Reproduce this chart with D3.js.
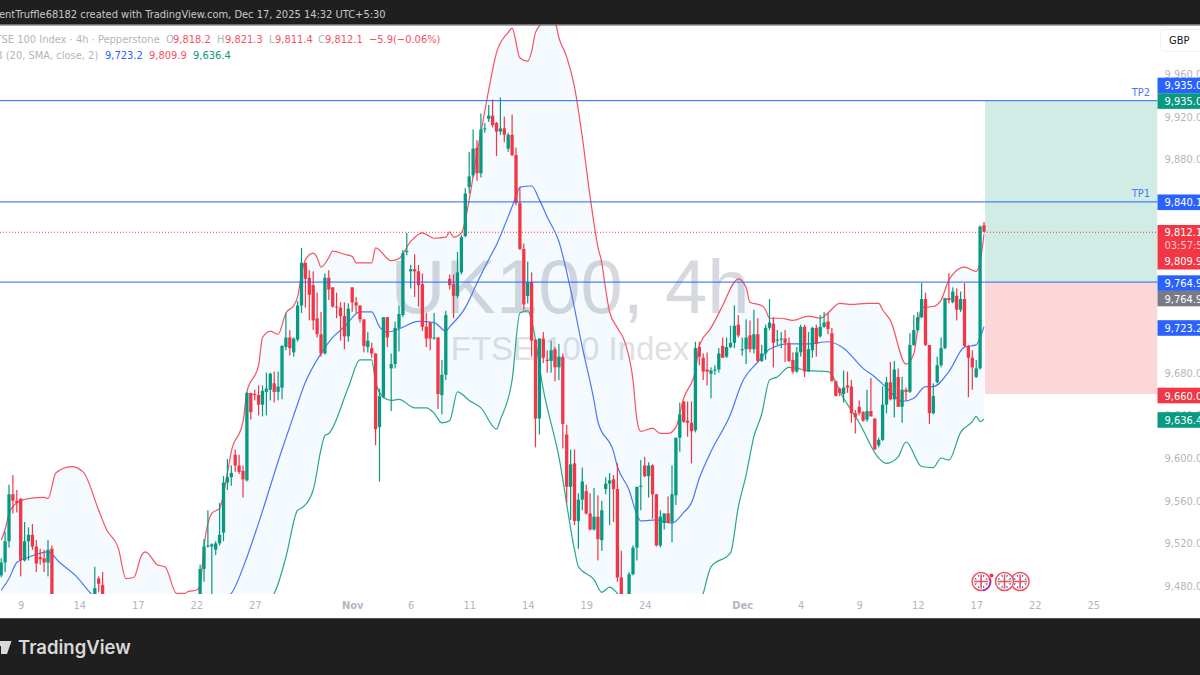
<!DOCTYPE html>
<html>
<head>
<meta charset="utf-8">
<script src="https://cdn.jsdelivr.net/npm/d3@7"></script>
<style>
  html, body { margin: 0; padding: 0; background: #fff; overflow: hidden; }
  text { font-family: "DejaVu Sans", sans-serif; font-stretch: condensed; }
</style>
</head>
<body>
<svg id="chart" width="1200" height="675"></svg>
<script>
// 4h bars, one row = 10 bars, null = bar is off the visible price range
const opens = [
  9490,9502,9522,9566,9560,9562,9504,9522,9528,9517,
  9507,9506,9502,9515,null,null,null,null,null,null,
  null,null,null,null,9467,9487,9481,null,null,null,
  null,null,null,null,null,null,null,null,null,null,
  null,null,null,null,null,null,null,null,null,null,
  null,9458,9496,9517,9517,9514,9520,9530,9577,9582,
  9603,9593,9588,9579,9661,9660,9659,9650,9662,9664,
  9670,9662,9666,9704,9713,9699,9711,9743,9783,9769,
  9762,9731,9716,9698,9769,9760,9742,9741,9733,9714,
  9760,9746,9743,9730,9704,9703,9698,9629,9657,9732,
  9684,9688,9722,9734,9793,9775,9777,9775,9763,9723,
  9727,9712,9713,9659,9678,9768,9763,9752,9774,9808,
  9854,9865,9891,9867,9908,9918,9921,9914,9906,9909,
  9890,9903,9884,9839,9796,9752,9765,9711,9637,9712,
  9692,9691,9702,9685,9695,9622,9573,9595,9541,9561,
  9569,9548,9533,9545,9523,9571,9576,9580,9571,9488,
  null,9462,9491,9516,9573,9593,9583,9593,9566,9518,
  9539,9548,9540,9565,9619,9653,9635,9633,9626,9704,
  9694,9683,9679,9682,9683,9705,9695,9704,9708,9725,
  9701,9702,9715,9702,9716,9691,9698,9722,9726,9710,
  9711,9712,9708,9692,9681,9699,9723,9681,9701,9722,
  9714,9723,9728,9717,9672,9665,9660,9668,9667,9642,
  9648,9643,9636,9644,9637,9612,9617,9650,9671,9655,
  9676,9648,9664,9662,9706,9720,9732,9749,9706,9642,
  9671,9687,9703,9750,9746,9752,9739,9749,9705,9694,
  9676,9684,9818.2
];
const highs = [
  9506,9531,9575,9584,9570,9562,9540,9535,9538,9523,
  9515,9514,9523,9518,null,null,null,null,null,null,
  null,null,null,null,9498,9489,9493,null,null,null,
  null,null,null,null,null,null,null,null,null,null,
  null,null,null,null,null,null,null,null,null,null,
  null,9500,9524,9551,9520,9522,9558,9583,9599,9593,
  9608,9603,9593,9662,9661,9664,9668,9668,9680,9680,
  9681,9681,9706,9736,9720,9713,9747,9797,9783,9776,
  9775,9755,9737,9773,9776,9760,9755,9746,9746,9745,
  9760,9751,9743,9730,9718,9708,9698,9665,9732,9732,
  9698,9728,9743,9795,9811,9781,9791,9781,9773,9736,
  9727,9736,9713,9692,9738,9772,9772,9793,9809,9853,
  9887,9908,9898,9923,9914,9931,9936,9915,9938,9920,
  9905,9922,9891,9854,9801,9784,9774,9711,9712,9718,
  9701,9710,9704,9707,9698,9631,9608,9608,9567,9591,
  9575,9567,9572,9565,9560,9582,9586,9584,9595,9513,
  null,9493,9518,9573,9598,9601,9596,9594,9566,9551,
  9548,9564,9593,9619,9652,9653,9653,9653,9709,9709,
  9698,9699,9685,9687,9703,9713,9713,9724,9743,9734,
  9713,9730,9729,9739,9731,9706,9725,9749,9732,9720,
  9718,9720,9713,9699,9704,9725,9725,9718,9723,9725,
  9734,9737,9736,9722,9672,9666,9682,9681,9673,9645,
  9654,9644,9664,9675,9637,9619,9667,9676,9690,9691,
  9684,9676,9666,9717,9734,9737,9764,9755,9706,9670,
  9695,9713,9750,9773,9760,9759,9756,9764,9706,9701,
  9692,9818,9821.3
];
const lows = [
  9488,9493,9516,9548,9549,9489,9503,9504,9514,9493,
  9500,9493,9489,9439,null,null,null,null,null,null,
  null,null,null,null,9461,9474,9459,null,null,null,
  null,null,null,null,null,null,null,null,null,null,
  null,null,null,null,null,null,null,null,null,null,
  null,9453,9484,9516,9467,9509,9518,9522,9570,9574,
  9587,9585,9563,9578,9636,9654,9640,9639,9640,9654,
  9652,9654,9655,9701,9696,9695,9709,9736,9741,9729,
  9720,9713,9695,9697,9748,9741,9731,9710,9702,9709,
  9737,9736,9727,9699,9699,9694,9612,9578,9656,9704,
  9644,9684,9700,9732,9790,9759,9751,9742,9719,9704,
  9701,9711,9646,9641,9673,9758,9731,9750,9772,9807,
  9848,9863,9860,9863,9905,9915,9910,9883,9903,9896,
  9887,9883,9837,9795,9739,9745,9695,9610,9622,9689,
  9680,9680,9672,9673,9609,9558,9542,9537,9515,9551,
  9547,9532,9532,9504,9513,9566,9537,9540,9484,9448,
  null,9458,9490,9504,9551,9582,9563,9543,9517,9516,
  9533,9539,9521,9556,9606,9633,9620,9595,9624,9687,
  9673,9668,9656,9678,9680,9694,9694,9703,9703,9713,
  9696,9688,9699,9698,9690,9690,9692,9720,9685,9706,
  9703,9690,9690,9679,9680,9695,9676,9681,9694,9695,
  9713,9722,9716,9672,9658,9658,9652,9661,9633,9623,
  9640,9634,9634,9639,9608,9610,9616,9642,9654,9638,
  9648,9633,9654,9661,9705,9718,9731,9705,9632,9641,
  9670,9685,9702,9745,9745,9729,9737,9704,9657,9664,
  9675,9683,9811.4
];
const closes = [
  9502,9522,9566,9560,9558,9504,9522,9528,9517,9501,
  9505,9502,9514,9448,null,null,null,null,null,null,
  null,null,null,null,9478,9482,9467,null,null,null,
  null,null,null,null,null,null,null,null,null,null,
  null,null,null,null,null,null,null,null,null,null,
  null,9496,9517,9518,9519,9520,9528,9577,9582,9586,
  9593,9587,9580,9661,9643,9659,9650,9663,9665,9679,
  9662,9667,9705,9713,9703,9712,9743,9783,9768,9753,
  9729,9716,9698,9769,9758,9742,9741,9733,9714,9740,
  9746,9743,9730,9705,9710,9698,9627,9658,9732,9713,
  9688,9722,9735,9792,9794,9777,9775,9762,9723,9712,
  9712,9713,9660,9678,9734,9762,9752,9774,9807,9848,
  9864,9890,9867,9908,9909,9921,9912,9906,9909,9903,
  9903,9884,9839,9796,9744,9765,9710,9637,9712,9694,
  9691,9701,9685,9695,9632,9573,9594,9541,9561,9578,
  9548,9533,9545,9524,9551,9576,9579,9571,9488,9458,
  null,9491,9516,9573,9574,9583,9593,9566,9518,9545,
  9548,9539,9566,9619,9641,9634,9633,9625,9703,9695,
  9681,9681,9682,9683,9698,9694,9704,9708,9724,9715,
  9702,9713,9702,9716,9691,9698,9722,9727,9708,9711,
  9712,9708,9691,9681,9699,9723,9681,9702,9722,9707,
  9723,9727,9721,9672,9658,9661,9666,9666,9642,9638,
  9642,9635,9644,9639,9608,9617,9650,9671,9655,9683,
  9648,9664,9662,9706,9720,9732,9749,9706,9642,9658,
  9687,9703,9750,9748,9756,9739,9749,9705,9694,9685,
  9684,9817,9812.1
];

// bollinger bands, read at the bar numbers listed in the *Bars arrays
const upperBars = [0,1,2,4,7,11,12,14,18,21,25,27,30,32,34,36,37,40,42,45,47,48,50,51,52,54,56,58,59,62,63,66,67,69,71,73,75,76,77,78,80,81,82,84,85,88,90,91,95,96,100,102,105,108,111,114,115,116,118,119,120,122,123,125,127,130,131,133,135,136,137,139,140,142,143,145,147,149,151,153,154,155,156,158,160,162,163,164,167,169,171,173,175,178,179,182,185,188,189,191,192,195,196,197,200,203,207,210,212,215,218,222,225,226,228,232,234,236,239,241,243,247,250,251,252];
const upperBand = [9523,9533,9548,9558,9562,9563,9562,9586,9592,9587,9551,9533,9516,9487,9488,9509,9512,9500,9498,9473,9473,9475,9476,9481,9517,9548,9553,9586,9606,9634,9662,9687,9713,9719,9716,9736,9743,9751,9772,9786,9792,9788,9779,9788,9794,9791,9789,9783,9783,9797,9785,9787,9803,9811,9806,9807,9812,9807,9811,9823,9842,9886,9905,9945,9980,9999,10003,9975,9972,9981,9999,10009,10014,10009,9994,9976,9948,9901,9845,9798,9783,9758,9737,9722,9708,9673,9636,9625,9628,9623,9623,9629,9656,9682,9705,9722,9743,9765,9768,9760,9746,9743,9739,9731,9731,9729,9733,9731,9736,9745,9744,9745,9745,9739,9729,9688,9698,9741,9742,9748,9767,9779,9775,9784,9809.9];
const basisBars = [0,2,4,7,12,15,19,23,40,59,63,66,72,75,78,82,85,88,92,95,97,99,102,107,111,114,115,119,122,125,127,132,133,136,138,140,143,146,149,152,153,157,158,161,163,164,168,172,175,177,179,182,187,190,194,197,202,207,212,216,221,224,227,231,234,237,239,243,247,250,251,252];
const basisBand = [9476,9487,9502,9507,9512,9502,9490,9473,9429,9473,9507,9539,9608,9640,9671,9698,9713,9723,9737,9737,9723,9718,9721,9728,9727,9719,9723,9741,9764,9786,9800,9845,9854,9855,9842,9826,9803,9758,9704,9654,9634,9606,9592,9570,9547,9541,9542,9539,9549,9558,9581,9606,9641,9671,9690,9702,9707,9707,9709,9703,9684,9676,9666,9653,9656,9667,9667,9681,9704,9706,9713,9723.2];
const lowerBars = [0,40,70,73,76,77,80,82,83,84,89,92,95,96,98,100,102,106,109,111,113,115,117,120,123,127,128,131,133,135,136,139,143,147,148,152,154,156,158,170,180,182,187,189,191,193,195,197,199,202,207,212,216,220,225,227,230,232,236,239,241,243,246,249,250,251,252];
const lowerBand = [9380,9380,9473,9507,9551,9553,9570,9608,9621,9623,9666,9692,9692,9671,9657,9654,9655,9647,9647,9642,9633,9635,9662,9654,9647,9627,9636,9673,9736,9738,9729,9664,9601,9514,9498,9486,9474,9479,9473,9400,9473,9498,9511,9554,9584,9620,9641,9673,9676,9685,9682,9681,9656,9633,9600,9595,9601,9615,9592,9591,9600,9598,9624,9634,9639,9634,9636.4];

const timeTickBars = [5,20,35,50,65,90,105,120,135,150,165,190,205,220,235,250,265,280];
const timeTickLabels = ["9","14","17","22","27","Nov","6","11","14","19","24","Dec","4","9","12","17","22","25"];
const priceTicks = [9480,9520,9560,9600,9640,9680,9720,9760,9800,9840,9880,9920,9960];

const tp1 = 9840.1, tp2 = 9935, entry = 9764.9, stop = 9660, lastClose = 9812.1;
const eventBars = [261, 257, 251];

const priceLabels = [
  { text: "9,935.0", price: 9935, dy: -15.2, fill: "#2962ff" },
  { text: "9,935.0", price: 9935, dy: 0.4, fill: "#089981" },
  { text: "9,840.1", price: 9840.1, dy: 0.4, fill: "#2962ff" },
  { text: "9,764.9", price: 9764.9, dy: 1, fill: "#2962ff" },
  { text: "9,764.9", price: 9764.9, dy: 16.4, fill: "#787b86" },
  { text: "9,723.2", price: 9723.2, dy: 1.4, fill: "#2962ff" },
  { text: "9,660.0", price: 9660, dy: 1.5, fill: "#f23645" },
  { text: "9,636.4", price: 9636.4, dy: 0.8, fill: "#089981" }
];

const green = "#089981", red = "#f23645", blue = "#2962ff", grey = "#b2b5be";
const axisX = 1157.5, plotTop = 25, plotBottom = 594, labelSize = "11px";

const x = d3.scaleLinear().domain([0, 252]).range([1.2, 984]);
const y = d3.scaleLinear().domain([9480, 9960]).range([586, 74]);

const svg = d3.select("#chart");
const defs = svg.append("defs");
defs.append("clipPath").attr("id", "plot").append("rect")
    .attr("x", 0).attr("y", plotTop).attr("width", axisX).attr("height", plotBottom - plotTop);

svg.append("rect").attr("width", 1200).attr("height", 675).attr("fill", "#fff");

const plot = svg.append("g").attr("clip-path", "url(#plot)");

// watermark
plot.append("text")
    .attr("x", 570).attr("y", 313)
    .attr("text-anchor", "middle")
    .style("font-family", "'Liberation Sans'")
    .style("font-stretch", "normal")
    .style("font-size", "76px")
    .attr("fill", "#d6d9de")
    .text("UK100, 4h");
plot.append("text")
    .attr("x", 570).attr("y", 360)
    .attr("text-anchor", "middle")
    .style("font-family", "'Liberation Sans'")
    .style("font-stretch", "normal")
    .style("font-size", "33px")
    .attr("fill", "#dfe1e5")
    .text("FTSE 100 Index");

// bands
const pts = (bars, vals) => bars.map((b, i) => [x(b), y(vals[i])]);
const line = d3.line().curve(d3.curveMonotoneX);
const upperPts = pts(upperBars, upperBand);
const basisPts = pts(basisBars, basisBand);
const lowerPts = pts(lowerBars, lowerBand);

plot.append("path")
    .attr("d", line(upperPts) + "L" + line(lowerPts.slice().reverse()).slice(1) + "Z")
    .attr("fill", "#2196f3").attr("fill-opacity", 0.05);
[[upperPts, "#f7525f"], [basisPts, "#4c78f5"], [lowerPts, "#2ba58f"]].forEach(([p, c]) => {
    plot.append("path").attr("d", line(p)).attr("fill", "none").attr("stroke", c).attr("stroke-width", 1.2);
});

// long position box
plot.append("rect")
    .attr("x", x(252) + 1).attr("y", y(tp2))
    .attr("width", axisX - x(252) - 1).attr("height", y(entry) - y(tp2))
    .attr("fill", "#d1ebe5");
plot.append("rect")
    .attr("x", x(252) + 1).attr("y", y(entry))
    .attr("width", axisX - x(252) - 1).attr("height", y(stop) - y(entry))
    .attr("fill", "#fbd7da");

// candles
const bars = d3.range(opens.length).filter(i => opens[i] !== null);
plot.selectAll(".wick")
    .data(bars)
    .enter().append("rect")
    .attr("class", "wick")
    .attr("x", i => x(i) - 0.6)
    .attr("y", i => y(highs[i]))
    .attr("width", 1.2)
    .attr("height", i => y(lows[i]) - y(highs[i]))
    .attr("fill", i => closes[i] >= opens[i] ? green : red);
plot.selectAll(".body")
    .data(bars)
    .enter().append("rect")
    .attr("class", "body")
    .attr("x", i => x(i) - 1.65)
    .attr("y", i => y(Math.max(opens[i], closes[i])))
    .attr("width", 3.3)
    .attr("height", i => Math.max(1, Math.abs(y(opens[i]) - y(closes[i]))))
    .attr("fill", i => closes[i] >= opens[i] ? green : red);

// horizontal levels
[tp2, tp1, entry].forEach(p => {
    plot.append("line")
        .attr("x1", 0).attr("x2", axisX)
        .attr("y1", y(p)).attr("y2", y(p))
        .attr("stroke", blue).attr("stroke-width", 1);
});
plot.append("line")
    .attr("x1", 0).attr("x2", axisX)
    .attr("y1", y(lastClose) + 0.5).attr("y2", y(lastClose) + 0.5)
    .attr("stroke", red).attr("stroke-width", 1)
    .attr("stroke-dasharray", "1 2");

[["TP2", tp2], ["TP1", tp1]].forEach(([t, p]) => {
    plot.append("text")
        .attr("x", 1150).attr("y", y(p) - 5)
        .attr("text-anchor", "end")
        .style("font-size", labelSize)
        .attr("fill", "#4c78f5")
        .text(t);
});

// uk event flags
const flags = svg.append("g");
eventBars.forEach((b, n) => {
    const id = "flag" + n;
    const g = flags.append("g").attr("transform", `translate(${x(b) + 1},581.5)`);
    defs.append("clipPath").attr("id", id).append("circle").attr("r", 7);
    g.append("circle").attr("r", 9).attr("fill", "#fff").attr("stroke", "#f7525f").attr("stroke-width", 1.5);
    const inner = g.append("g").attr("clip-path", `url(#${id})`);
    inner.append("circle").attr("r", 7).attr("fill", "#2b5fb8");
    inner.append("path").attr("d", "M-8,-8L8,8M8,-8L-8,8").attr("stroke", "#fff").attr("stroke-width", 3);
    inner.append("path").attr("d", "M-8,0H8M0,-8V8").attr("stroke", "#fff").attr("stroke-width", 4);
    inner.append("path").attr("d", "M-8,0H8M0,-8V8").attr("stroke", "#e8505b").attr("stroke-width", 1.6);
});
flags.append("path")
    .attr("d", "M990,578A9,9 0 0 1 983,590.5")
    .attr("fill", "none").attr("stroke", "#9c27b0").attr("stroke-width", 1.3);
flags.append("circle").attr("cx", 991.5).attr("cy", 575.5).attr("r", 2).attr("fill", red);

// price axis
const priceAxis = svg.append("g")
    .attr("transform", `translate(${axisX},0)`)
    .call(d3.axisRight(y).tickValues(priceTicks).tickSize(0).tickPadding(7).tickFormat(d3.format(",.1f")));
priceAxis.select(".domain").remove();
priceAxis.selectAll("text").style("font-size", labelSize).style("font-family", "'DejaVu Sans'").attr("fill", grey);

priceLabels.forEach(d => {
    const cy = y(d.price) + d.dy;
    svg.append("rect").attr("x", axisX).attr("y", cy - 7.8).attr("width", 44).attr("height", 15.6).attr("fill", d.fill);
    svg.append("text").attr("x", axisX + 7).attr("y", cy + 4)
        .style("font-size", labelSize).attr("fill", "#fff").text(d.text);
});

svg.append("rect").attr("x", axisX).attr("y", 225).attr("width", 44).attr("height", 44.5).attr("fill", red);
[["9,812.1", 236, "#fff"], ["03:57:55", 249, "#fcc"], ["9,809.9", 265, "#fff"]].forEach(([t, ty, c]) => {
    svg.append("text").attr("x", axisX + 7).attr("y", ty)
        .style("font-size", labelSize).attr("fill", c).text(t);
});

svg.append("rect").attr("x", 1160.5).attr("y", 29.5).attr("width", 45).attr("height", 22).attr("rx", 3)
    .attr("fill", "#fff").attr("stroke", "#f0f3fa");
svg.append("text").attr("x", 1169).attr("y", 44)
    .style("font-size", labelSize).attr("fill", "#131722").text("GBP");

// time axis
const timeAxis = svg.append("g")
    .attr("transform", `translate(0,${plotBottom})`)
    .call(d3.axisBottom(x).tickValues(timeTickBars).tickSize(0).tickPadding(7).tickFormat((d, i) => timeTickLabels[i]));
timeAxis.select(".domain").remove();
timeAxis.selectAll("text").style("font-size", labelSize).style("font-family", "'DejaVu Sans'").attr("fill", grey)
    .style("font-weight", (d, i) => isNaN(+timeTickLabels[i]) ? "600" : "400");

// legend
const legendRows = [
  { y: 43, parts: [
    [-10, "FTSE 100 Index · 4h · Pepperstone", grey], [166, "O", grey], [173, "9,818.2", "#f7525f"],
    [217, "H", grey], [225, "9,821.3", "#f7525f"], [269, "L", grey], [275, "9,811.4", "#f7525f"],
    [318, "C", grey], [325, "9,812.1", "#f7525f"], [369, "−5.9", "#f7525f"], [393, "(−0.06%)", "#f7525f"]
  ]},
  { y: 59, parts: [
    [-11, "BB (20, SMA, close, 2)", grey], [105, "9,723.2", blue], [149, "9,809.9", "#f7525f"], [193, "9,636.4", green]
  ]}
];
legendRows.forEach(r => r.parts.forEach(([px, t, c]) => {
    svg.append("text").attr("x", px).attr("y", r.y).style("font-size", labelSize).attr("fill", c).text(t);
}));

// header and footer bars
svg.append("rect").attr("width", 1200).attr("height", 24.5).attr("fill", "#1f1f1f");
svg.append("rect").attr("y", 24.5).attr("width", 1200).attr("height", 1).attr("fill", "#555");
svg.append("text").attr("x", -1).attr("y", 18)
    .style("font-size", labelSize).attr("fill", "#c8c8c8")
    .text("entTruffle68182 created with TradingView.com, Dec 17, 2025 14:32 UTC+5:30");

svg.append("rect").attr("y", 618).attr("width", 1200).attr("height", 1).attr("fill", "#555");
svg.append("rect").attr("y", 619).attr("width", 1200).attr("height", 56).attr("fill", "#1f1f1f");
svg.append("path")
    .attr("d", "M-2,641H6.5V654H1V646H-2ZM11.5,641L7,654H6.5V641Z")
    .attr("fill", "#d8d8d8");
svg.append("text").attr("x", 18).attr("y", 653.5)
    .style("font-family", "'Inter'")
    .style("font-stretch", "normal")
    .style("font-size", "18.5px").style("font-weight", "600")
    .attr("fill", "#d8d8d8").text("TradingView");
</script>
</body>
</html>
